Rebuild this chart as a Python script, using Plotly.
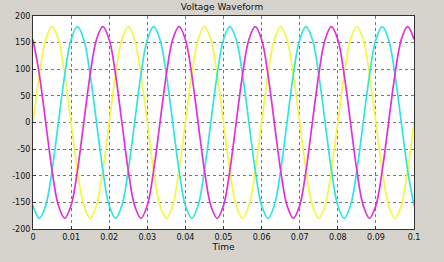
import plotly.graph_objects as go

# time samples (s), every 1/600 s (30 electrical degrees at 50 Hz)
time = [0.0, 0.00167, 0.00333, 0.005, 0.00667, 0.00833, 0.01, 0.01167, 0.01333, 0.015, 0.01667, 0.01833,
        0.02, 0.02167, 0.02333, 0.025, 0.02667, 0.02833, 0.03, 0.03167, 0.03333, 0.035, 0.03667, 0.03833,
        0.04, 0.04167, 0.04333, 0.045, 0.04667, 0.04833, 0.05, 0.05167, 0.05333, 0.055, 0.05667, 0.05833,
        0.06, 0.06167, 0.06333, 0.065, 0.06667, 0.06833, 0.07, 0.07167, 0.07333, 0.075, 0.07667, 0.07833,
        0.08, 0.08167, 0.08333, 0.085, 0.08667, 0.08833, 0.09, 0.09167, 0.09333, 0.095, 0.09667, 0.09833,
        0.1]

phase_yellow = [0, 90, 156, 180, 156, 90, 0, -90, -156, -180, -156, -90,
                0, 90, 156, 180, 156, 90, 0, -90, -156, -180, -156, -90,
                0, 90, 156, 180, 156, 90, 0, -90, -156, -180, -156, -90,
                0, 90, 156, 180, 156, 90, 0, -90, -156, -180, -156, -90,
                0, 90, 156, 180, 156, 90, 0, -90, -156, -180, -156, -90,
                0]

phase_magenta = [156, 90, 0, -90, -156, -180, -156, -90, 0, 90, 156, 180,
                 156, 90, 0, -90, -156, -180, -156, -90, 0, 90, 156, 180,
                 156, 90, 0, -90, -156, -180, -156, -90, 0, 90, 156, 180,
                 156, 90, 0, -90, -156, -180, -156, -90, 0, 90, 156, 180,
                 156, 90, 0, -90, -156, -180, -156, -90, 0, 90, 156, 180,
                 156]

phase_cyan = [-156, -180, -156, -90, 0, 90, 156, 180, 156, 90, 0, -90,
              -156, -180, -156, -90, 0, 90, 156, 180, 156, 90, 0, -90,
              -156, -180, -156, -90, 0, 90, 156, 180, 156, 90, 0, -90,
              -156, -180, -156, -90, 0, 90, 156, 180, 156, 90, 0, -90,
              -156, -180, -156, -90, 0, 90, 156, 180, 156, 90, 0, -90,
              -156]

x_ticks = [0, 0.01, 0.02, 0.03, 0.04, 0.05, 0.06, 0.07, 0.08, 0.09, 0.1]
x_tick_labels = ["0", "0.01", "0.02", "0.03", "0.04", "0.05", "0.06", "0.07", "0.08", "0.09", "0.1"]
y_ticks = [-200, -150, -100, -50, 0, 50, 100, 150, 200]

fig = go.Figure()
for vals, col in [(phase_yellow, "#f6f640"), (phase_cyan, "#30e4e4"), (phase_magenta, "#e030d8")]:
    fig.add_trace(go.Scatter(x=time, y=vals, mode="lines",
                             line=dict(color=col, width=1.7, shape="spline", smoothing=1.0),
                             showlegend=False, hoverinfo="skip"))

axis_common = dict(showgrid=True, gridcolor="#777777", griddash="dot", gridwidth=1,
                   zeroline=False, showline=True, linecolor="#333333", linewidth=1,
                   mirror=True, ticks="inside", ticklen=3, tickcolor="#333333",
                   tickfont=dict(family="DejaVu Sans", size=8, color="#111111"))

fig.update_xaxes(range=[0, 0.1], tickvals=x_ticks, ticktext=x_tick_labels,
                 title=dict(text="Time", font=dict(family="DejaVu Sans", size=9, color="#111111"), standoff=2),
                 **axis_common)
fig.update_yaxes(range=[-200, 200], tickvals=y_ticks, ticktext=[str(v) for v in y_ticks],
                 **axis_common)

fig.update_layout(
    width=444, height=262,
    margin=dict(l=30, r=30, t=14, b=26),
    paper_bgcolor="#d6d3cc", plot_bgcolor="#ffffff",
    title=dict(text="Voltage Waveform", x=0.5, xanchor="center", y=0.985, yanchor="top",
               font=dict(family="DejaVu Sans", size=9, color="#111111")),
)

fig.write_html("out.html")
